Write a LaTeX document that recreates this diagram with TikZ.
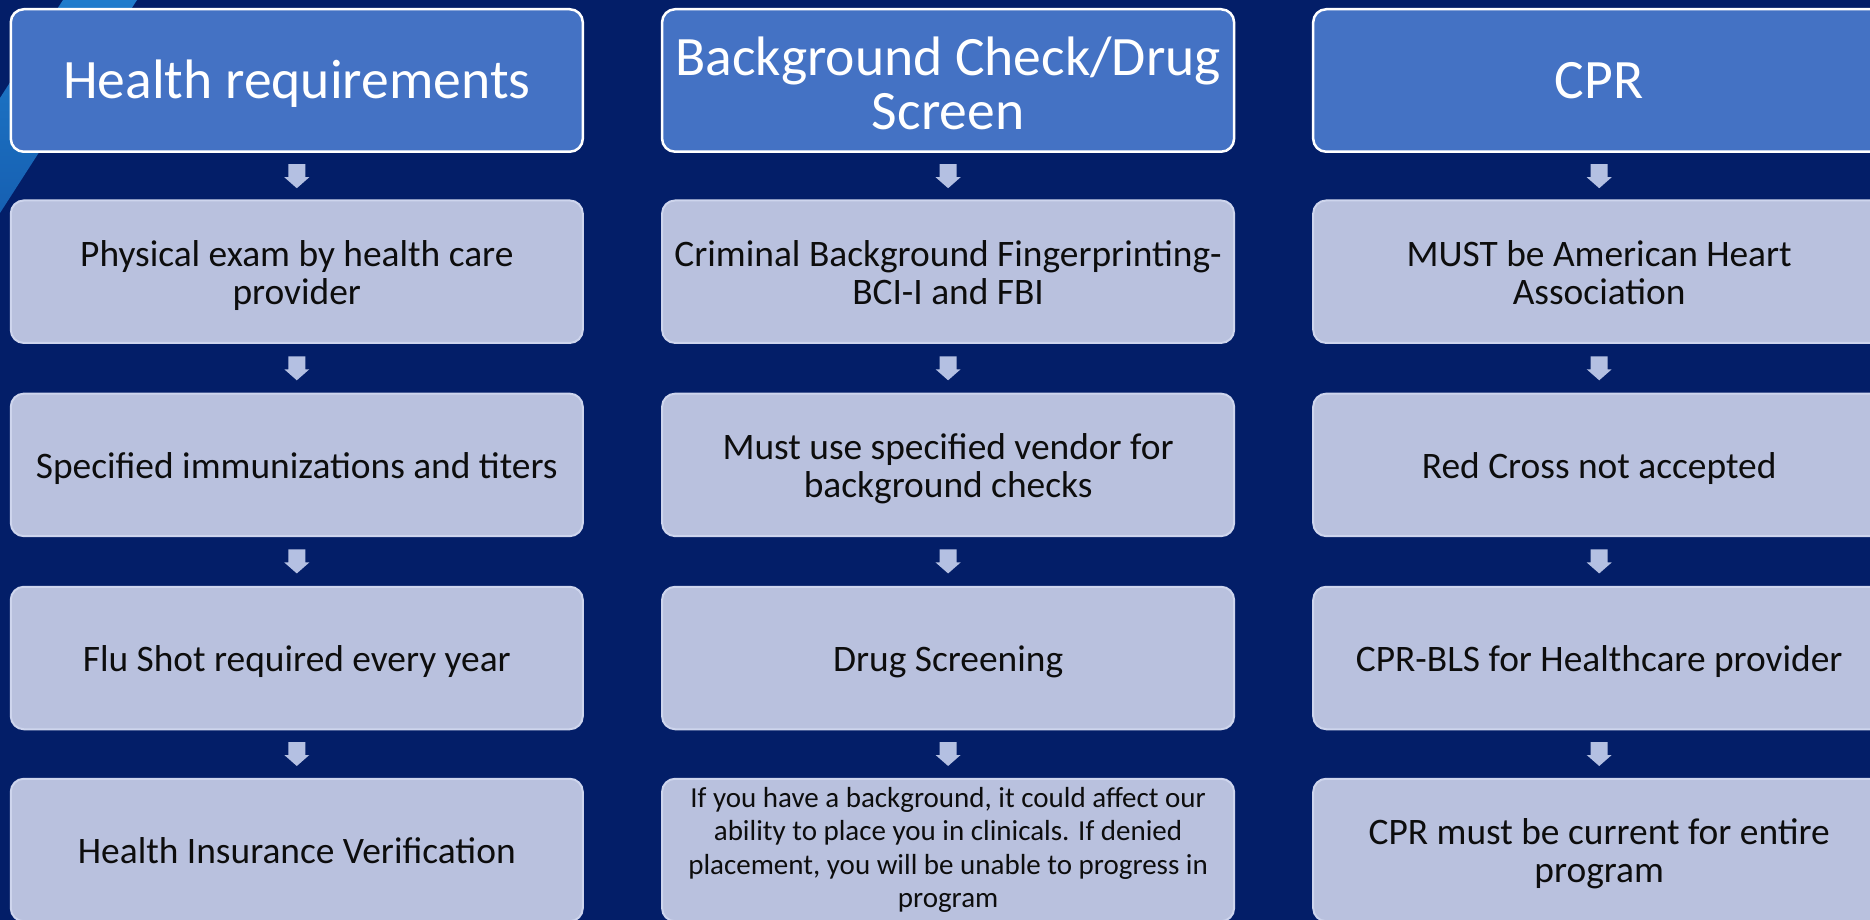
\documentclass[tikz,border=0pt]{standalone}
\usepackage{fontspec}
\setmainfont{Carlito}
\usetikzlibrary{calc}
\definecolor{navy}{RGB}{3,30,104}
\definecolor{hdrfill}{RGB}{68,114,196}
\definecolor{subfill}{RGB}{185,193,222}
\definecolor{subline}{RGB}{206,213,237}
\definecolor{arrowc}{RGB}{180,192,226}
\definecolor{stripetop}{RGB}{32,124,204}
\definecolor{stripebot}{RGB}{22,96,178}
\definecolor{txt}{RGB}{13,13,13}
% struts to place baselines as in the reference
\newcommand\tsub{\rule{0pt}{0.973em}}
\newcommand\bsub{\rule[-0.232em]{0pt}{0.232em}}
\newcommand\thdr{\rule{0pt}{0.887em}}
\newcommand\bhdr{\rule[-0.232em]{0pt}{0.232em}}
\newcommand\bhdrtwo{\rule[-0.1em]{0pt}{0.1em}}
\tikzset{
  basebox/.style={rounded corners=13pt, minimum width=572pt, minimum height=142.5pt,
    inner sep=0pt, align=center},
  hdrbox/.style={basebox, draw=white, line width=2.5pt, fill=hdrfill,
    text=white, font=\fontsize{55.6}{53.7}\selectfont},
  subbox/.style={basebox, draw=subline, line width=2pt, fill=subfill,
    text=txt, font=\fontsize{37.4}{38}\selectfont},
  smallbox/.style={basebox, draw=subline, line width=2pt, fill=subfill,
    text=txt, font=\fontsize{29}{33.5}\selectfont},
  downarrow/.pic={\fill[arrowc] (-8.5,-12) -- (8.5,-12) -- (8.5,1) -- (12.5,1)
     -- (0,12) -- (-12.5,1) -- (-8.5,1) -- cycle;}
}
\begin{document}
\begin{tikzpicture}[x=1pt,y=-1pt]
\useasboundingbox (0,0) rectangle (1870,920);
\clip (0,0) rectangle (1870,920);
\fill[navy] (0,0) rectangle (1870,920);
\shade[top color=stripetop, bottom color=stripebot] (63,0) -- (137,0) -- (0,213) -- (0,98) -- cycle;

% column 1
\node[hdrbox] (h1) at (296.8,80.5) {\thdr Health requirements\bhdr};
\node[subbox] (a1) at (296.8,271.7) {\tsub Physical exam by health care\\provider\bsub};
\node[subbox] (a2) at (296.8,464.9) {\tsub Specified immunizations and titers\bsub};
\node[subbox] (a3) at (296.8,658) {\tsub Flu Shot required every year\bsub};
\node[subbox] (a4) at (296.8,850) {\tsub Health Insurance Verification\bsub};

% column 2
\node[hdrbox] (h2) at (948.1,80.5) {\thdr Background Check/Drug\\Screen\bhdrtwo};
\node[subbox] (b1) at (948.1,271.7) {\tsub Criminal Background Fingerprinting-\\BCI-I and FBI\bsub};
\node[subbox] (b2) at (948.1,464.9) {\tsub Must use specified vendor for\\background checks\bsub};
\node[subbox] (b3) at (948.1,658) {\tsub Drug Screening\bsub};
\node[smallbox] (b4) at (948.1,850) {If you have a background, it could affect our\\ability to place you in clinicals. If denied\\placement, you will be unable to progress in\\program};

% column 3
\node[hdrbox] (h3) at (1599.2,80.5) {\thdr CPR\bhdr};
\node[subbox] (c1) at (1599.2,271.7) {\tsub MUST be American Heart\\Association\bsub};
\node[subbox] (c2) at (1599.2,464.9) {\tsub Red Cross not accepted\bsub};
\node[subbox] (c3) at (1599.2,658) {\tsub CPR-BLS for Healthcare provider\bsub};
\node[subbox] (c4) at (1599.2,850) {\tsub CPR must be current for entire\\program\bsub};

% block arrows
\foreach \u/\v in {h1/a1,a1/a2,a2/a3,a3/a4,h2/b1,b1/b2,b2/b3,b3/b4,h3/c1,c1/c2,c2/c3,c3/c4}{
  \path ($(\u.south)!0.5!(\v.north)$) pic {downarrow};
}
\end{tikzpicture}
\end{document}
